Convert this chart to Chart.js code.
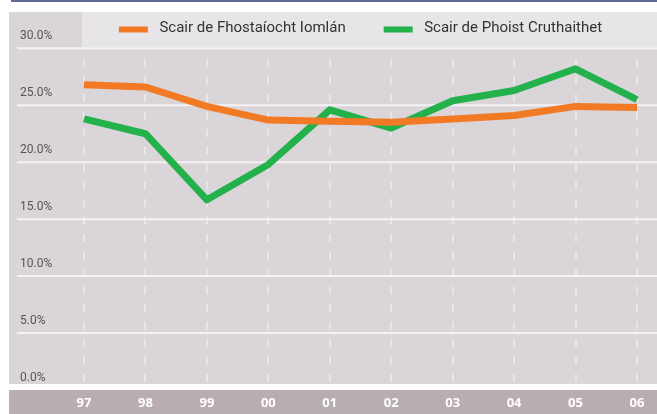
<!DOCTYPE html>
<html>
<head>
<meta charset="utf-8">
<title>Scair de Phoist</title>
<script src="https://cdn.jsdelivr.net/npm/chart.js@4.4.1/dist/chart.umd.min.js"></script>
<style>
    body { margin: 0; background: #fff; }
    #wrap { width: 657px; height: 414px; position: relative; }
</style>
</head>
<body>
<div id="wrap"><canvas id="shareChart"></canvas></div>
<script>
// Chart data
const YEARS = ['97', '98', '99', '00', '01', '02', '03', '04', '05', '06'];
const TOTAL_EMPLOYMENT = [26.8, 26.6, 24.9, 23.7, 23.6, 23.5, 23.8, 24.1, 24.9, 24.8];
const JOBS_CREATED = [23.8, 22.5, 16.7, 19.8, 24.6, 23.0, 25.4, 26.3, 28.2, 25.5];
const SERIES_LABELS = ['Scair de Fhostaíocht Iomlán', 'Scair de Phoist Cruthaithet'];
const Y_TICKS = [0, 5, 10, 15, 20, 25, 30];

const ORANGE = '#f37a24';
const GREEN = '#23b14b';

// Backgrounds, horizontal grid, y labels and legend
const decor = {
    id: 'decor',
    beforeDraw(chart) {
        const ctx = chart.ctx;
        const w = chart.width;
        ctx.save();
        ctx.fillStyle = '#ffffff';
        ctx.fillRect(0, 0, w, chart.height);
        ctx.fillStyle = '#5b6b93';
        ctx.fillRect(11, 0, w - 11, 2);
        ctx.fillStyle = '#dad5d9';
        ctx.fillRect(9, 12, w - 9, 372);
        ctx.fillStyle = '#e8e5e9';
        ctx.fillRect(82, 12, w - 82, 35);
        ctx.fillStyle = '#b9adb4';
        ctx.fillRect(9, 390, w - 9, 24);
        ctx.restore();
    },
    beforeDatasetsDraw(chart) {
        const ctx = chart.ctx;
        const y = chart.scales.y;
        const area = chart.chartArea;
        const w = chart.width;
        ctx.save();

        // white gap above the axis band
        ctx.fillStyle = '#ffffff';
        ctx.fillRect(9, 384, w - 9, 6);

        // horizontal grid lines + labels
        ctx.font = '12px Roboto';
        ctx.textAlign = 'left';
        ctx.textBaseline = 'middle';
        Y_TICKS.forEach(v => {
            const py = y.getPixelForValue(v);
            if (v > 0) {
                ctx.strokeStyle = '#f4f2f4';
                ctx.lineWidth = 2;
                ctx.beginPath();
                ctx.moveTo(17, py);
                ctx.lineTo(w, py);
                ctx.stroke();
            }
            ctx.fillStyle = '#555555';
            ctx.fillText(v.toFixed(1) + '%', 20, py - 12);
        });

        // legend
        ctx.font = '15px Roboto';
        const sets = chart.data.datasets;
        const widths = sets.map(d => ctx.measureText(d.label).width);
        const sw = 29, gap = 11.5, between = 38;
        const total = sets.length * (sw + gap) + widths.reduce((a, b) => a + b, 0) + between * (sets.length - 1);
        let x = (area.left + area.right) / 2 - total / 2;
        sets.forEach((d, i) => {
            ctx.fillStyle = d.borderColor;
            ctx.fillRect(x, 26.5, sw, 6);
            ctx.fillStyle = '#333333';
            ctx.fillText(d.label, x + sw + gap, 28.5);
            x += sw + gap + widths[i] + between;
        });
        ctx.restore();
    }
};

new Chart(document.getElementById('shareChart'), {
    type: 'line',
    data: {
        labels: YEARS,
        datasets: [{
            label: SERIES_LABELS[0],
            data: TOTAL_EMPLOYMENT,
            borderColor: ORANGE,
            borderWidth: 7,
            pointRadius: 0,
            tension: 0,
            borderJoinStyle: 'round'
        }, {
            label: SERIES_LABELS[1],
            data: JOBS_CREATED,
            borderColor: GREEN,
            borderWidth: 7,
            pointRadius: 0,
            tension: 0,
            borderJoinStyle: 'round'
        }]
    },
    options: {
        responsive: true,
        maintainAspectRatio: false,
        animation: false,
        layout: {
            padding: { left: 84, right: 20, top: 48.3, bottom: 0 }
        },
        plugins: {
            legend: { display: false },
            tooltip: { enabled: false }
        },
        scales: {
            x: {
                afterFit: scale => { scale.height = 24; },
                grid: {
                    color: 'rgba(255, 255, 255, 0.42)',
                    lineWidth: 2,
                    drawTicks: false
                },
                border: { display: false, dash: [8, 9.5], dashOffset: 6.8 },
                ticks: {
                    color: '#ffffff',
                    padding: 5,
                    font: { family: 'Open Sans', size: 13, weight: 'bold' }
                }
            },
            y: {
                display: false,
                min: 0,
                max: 30
            }
        }
    },
    plugins: [decor]
});
</script>
</body>
</html>
